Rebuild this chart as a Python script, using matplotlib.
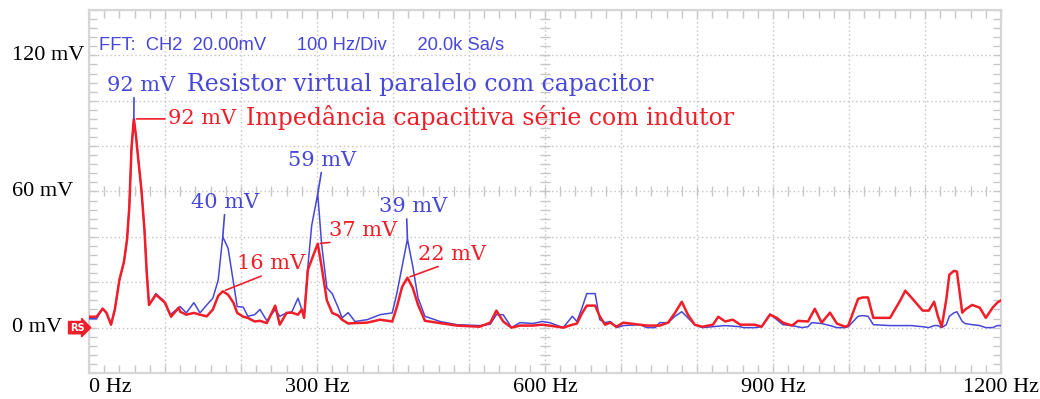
import matplotlib
matplotlib.use('Agg')
import matplotlib.pyplot as plt
import matplotlib.transforms as mtransforms
import numpy as np

# FFT spectrum of CH2, two configurations
freq_blue = [0, 10, 18, 23, 29, 34, 40, 46, 50, 53, 56, 59, 62, 64, 69, 73, 76, 79, 88, 98,
             107, 120, 128, 138, 146, 155, 163, 170, 176, 183, 190, 195, 203, 209, 218, 225,
             234, 245, 251, 260, 267, 275, 280, 283, 288, 293, 301, 306, 313, 320, 328, 333,
             341, 350, 366, 383, 399, 405, 412, 419, 426, 433, 442, 462, 484, 514, 528, 536,
             545, 556, 567, 584, 596, 606, 624, 636, 642, 649, 655, 666, 672, 679, 686, 694,
             703, 725, 734, 745, 751, 762, 771, 780, 788, 797, 807, 821, 837, 857, 861, 876,
             885, 896, 905, 913, 925, 938, 946, 951, 964, 975, 984, 995, 999, 1012, 1018, 1025,
             1032, 1054, 1082, 1097, 1105, 1112, 1117, 1122, 1128, 1132, 1138, 1142, 1149, 1153,
             1162, 1172, 1180, 1189, 1195, 1200]
mv_blue = [3.9, 3.9, 8.4, 6.5, 1.3, 8, 21, 29, 38.7, 53, 79.5, 92, 84, 77, 60.6, 43, 24, 10, 15, 12,
           5.7, 9.3, 6.5, 11, 6.5, 10, 13, 21, 40, 35, 20, 9.3, 9, 5, 5.7, 8,
           3, 8, 5, 6.5, 7, 13, 8, 5, 27, 45, 59, 37, 17.5, 15, 8.7, 4.3,
           6.6, 2.7, 3.5, 5.7, 6.5, 15, 27, 39, 27, 13, 5, 2.7, 1.3, 0.9, 1.5, 5.7,
           5.7, 0, 2.2, 1.8, 2.7, 2.2, 0, 5, 2.7, 9, 15, 15, 3.5, 2.2, 2.7, 0,
           0.9, 1.3, 0, 0, 2.2, 2.2, 5, 7, 4.3, 1.3, 0, 0.4, 0.9, 0.4, 0, 0,
           0.4, 6, 3.5, 1.3, 0.9, 0, 0.4, 2.2, 1.8, 0.9, 0, 0, 0.4, 5, 5.3, 5,
           1.3, 0.9, 0.9, 0.4, 0, 0.9, 0.9, 0, 1.3, 5, 6.5, 7, 2.7, 1.8,
           1.3, 0.9, 0, 0, 0.9, 0.9]

freq_red = [0, 10, 18, 23, 29, 34, 40, 46, 50, 53, 56, 59, 62, 64, 69, 73, 76, 79, 88, 100,
            108, 118, 120, 128, 138, 146, 155, 163, 170, 176, 183, 190, 195, 203, 209, 218,
            225, 234, 245, 251, 260, 267, 275, 280, 283, 288, 293, 301, 306, 313, 320, 328,
            333, 341, 350, 366, 383, 399, 405, 412, 419, 426, 433, 442, 462, 484, 514, 528,
            536, 545, 556, 567, 584, 596, 606, 624, 636, 642, 649, 655, 666, 672, 679, 686,
            694, 703, 725, 734, 751, 762, 771, 780, 788, 797, 807, 821, 828, 837, 847, 857,
            876, 885, 896, 905, 913, 925, 933, 946, 955, 964, 975, 984, 995, 999, 1012, 1018,
            1025, 1032, 1054, 1068, 1074, 1082, 1097, 1105, 1112, 1117, 1122, 1128, 1132, 1138,
            1142, 1149, 1153, 1162, 1172, 1180, 1189, 1195, 1200]
mv_red = [4.8, 4.8, 8.4, 6.5, 1.3, 8, 21, 29, 38.7, 53, 79.5, 92, 84, 77, 60.6, 43, 24, 10, 14.5, 11,
          4.8, 8.8, 7, 5.7, 6.5, 5.7, 5, 8, 14, 16, 14.5, 11, 6.5, 4.8, 4.3, 2.7,
          3, 2, 9.7, 1.3, 6.5, 6.6, 5.7, 8, 4.3, 25.5, 30, 37, 27, 12, 6.5, 5.3,
          3.5, 1.8, 2, 2.2, 3.5, 2.7, 9, 18, 22, 17.5, 10, 3, 2, 0.9, 0.4, 2.2,
          7.5, 2.7, 0, 0.9, 0.9, 1.3, 0.9, 0, 1.3, 1.8, 6.5, 9.7, 9.7, 5, 1.3, 2.2,
          0.4, 2.2, 1.3, 0.9, 0.9, 2.2, 6.5, 11.4, 5.7, 1.3, 0.4, 1.3, 4.8, 2.7, 3.5, 1.3,
          1.3, 0.4, 5.7, 4.3, 2.2, 0.9, 3, 2.7, 8.3, 2.2, 6.6, 1.8, 0.4, 0.9, 12.7, 13.3,
          13.3, 4.3, 4.3, 12.3, 16.3, 13.3, 7.5, 7.5, 11.4, 5, 0.4, 12.3, 23.3, 25,
          24.7, 6.6, 8, 10, 8.8, 4.3, 8.8, 11, 12]

# peaks that get a value label: (frequency, value)
peaks_blue = [(59, 92), (176, 40), (301, 59), (419, 39)]
peaks_red = [(59, 92), (176, 16), (301, 37), (419, 22)]

name_blue = 'Resistor virtual paralelo com capacitor'
name_red = 'Impedância capacitiva série com indutor'
header = 'FFT:  CH2  20.00mV      100 Hz/Div      20.0k Sa/s'

y_ticks = [0, 60, 120]
x_ticks = [0, 300, 600, 900, 1200]

BLUE = '#4747d8'
RED = '#f01e28'
GRID = '#c4c4c4'
SERIF = 'Liberation Serif'
LABEL_FONT = 'DejaVu Serif'

W, H = 1040, 399
fig = plt.figure(figsize=(W / 100, H / 100), dpi=100)
ax = fig.add_axes([89 / W, 1 - 373 / H, (1001 - 89) / W, (373 - 10) / H])
ax.set_xlim(0, 1200)
ax.set_ylim(-20, 140)

# screen grid, dotted
ax.set_xticks(np.arange(0, 1201, 100))
ax.set_yticks(np.arange(-20, 141, 20))
ax.set_xticks(np.arange(0, 1201, 20), minor=True)
ax.set_yticks(np.arange(-20, 141, 4), minor=True)
ax.grid(True, which='major', ls=(0, (1, 2)), color=GRID, lw=1)
ax.tick_params(which='both', direction='in', top=True, right=True, color='#c8c8c8',
               labelbottom=False, labelleft=False, length=6, width=1)
for s in ax.spines.values():
    s.set_color('#d6d6d6')
    s.set_linewidth(1.6)

# centre crosshair ticks
yc = np.arange(-20, 141, 4)
xc = np.arange(0, 1201, 20)
ax.plot(np.full(len(yc), 600), yc, ls='none', marker='_', ms=7, mew=1, color='#c8c8c8', zorder=1)
ax.plot(xc, np.full(len(xc), 60), ls='none', marker='|', ms=7, mew=1, color='#c8c8c8', zorder=1)

# traces
ax.plot(freq_blue, mv_blue, color=BLUE, lw=1.1, zorder=3)
ax.plot(freq_red, mv_red, color=RED, lw=1.8, zorder=4)

# axis labels drawn as text
ytr = mtransforms.blended_transform_factory(fig.transFigure, ax.transData)
for v in y_ticks:
    ax.text(12 / W, v, f'{v} mV', transform=ytr, ha='left', va='center',
            fontsize=16, family=SERIF, color='black', clip_on=False)
xtr = mtransforms.blended_transform_factory(ax.transData, fig.transFigure)
for v in x_ticks:
    ax.text(v, 1 - 388 / H, f'{v} Hz', transform=xtr, ha='left' if v == 0 else 'center',
            va='center', fontsize=16, family=SERIF, color='black', clip_on=False)

# reference level marker
ax.annotate('RS', xy=(0, 0), xytext=(-12, 0), textcoords='offset pixels', ha='center',
            va='center', fontsize=7, fontweight='bold', color='white', family='DejaVu Sans',
            annotation_clip=False,
            bbox=dict(boxstyle='rarrow,pad=0.12', fc=RED, ec=RED))

ax.text(0.011, 1 - 35 / 363, header, transform=ax.transAxes,
        ha='left', va='center', fontsize=13.2, family='Liberation Sans', color=BLUE)

# value labels: (dx, dy) in pixels from peak to text baseline, relpos of the leader
lab_blue = [(7, 28, 'center', (0.4, 0.0)), (2, 29, 'center', (0.5, 0.0)),
            (4, 28, 'center', (0.5, 0.0)), (6, 27, 'center', (0.4, 0.0))]
lab_red = [(34, 0, 'left', (0.0, 0.5)), (14, 22, 'left', (0.46, 0.0)),
           (11, 8, 'left', (0.42, 0.0)), (11, 18, 'left', (0.4, 0.0))]

for (f, v), (dx, dy, ha, rp) in zip(peaks_blue, lab_blue):
    ax.annotate(f'{v} mV', xy=(f, v), xytext=(dx, dy), textcoords='offset pixels',
                ha=ha, va='baseline', fontsize=15, family=LABEL_FONT, color=BLUE, zorder=5,
                arrowprops=dict(arrowstyle='-', color=BLUE, lw=1.2, shrinkA=0, shrinkB=0,
                                relpos=rp))
for i, ((f, v), (dx, dy, ha, rp)) in enumerate(zip(peaks_red, lab_red)):
    va = 'center' if i == 0 else 'baseline'
    ax.annotate(f'{v} mV', xy=(f, v), xytext=(dx, dy), textcoords='offset pixels',
                ha=ha, va=va, fontsize=15, family=LABEL_FONT, color=RED, zorder=5,
                arrowprops=dict(arrowstyle='-', color=RED, lw=1.2, shrinkA=0, shrinkB=2,
                                relpos=rp))

# series names next to the fundamental labels
f0, v0 = peaks_blue[0]
ax.annotate(name_blue, xy=(f0, v0), xytext=(53, 28), textcoords='offset pixels',
            ha='left', va='baseline', fontsize=17, family=LABEL_FONT, color=BLUE, zorder=5)
f0, v0 = peaks_red[0]
ax.annotate(name_red, xy=(f0, v0), xytext=(112, 1), textcoords='offset pixels',
            ha='left', va='center', fontsize=17, family=LABEL_FONT, color=RED, zorder=5)

fig.savefig('out.png', dpi=100, facecolor='white')
